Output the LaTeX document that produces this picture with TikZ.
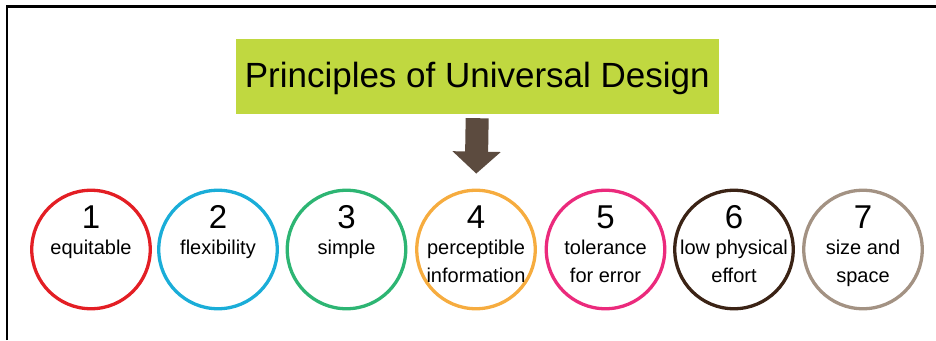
\documentclass[tikz,border=0pt]{standalone}
\usepackage{fontspec}
\setmainfont{Liberation Sans}
\usetikzlibrary{arrows.meta}
\definecolor{titlegreen}{HTML}{C0D840}
\definecolor{arrowbrown}{HTML}{5C4B3F}
\definecolor{ringred}{HTML}{E31E24}
\definecolor{ringcyan}{HTML}{1AADD8}
\definecolor{ringgreen}{HTML}{2DB573}
\definecolor{ringorange}{HTML}{F6AC3F}
\definecolor{ringpink}{HTML}{EB2A7C}
\definecolor{ringbrown}{HTML}{3B2315}
\definecolor{ringtaupe}{HTML}{A39283}
\begin{document}
\begin{tikzpicture}[x=1pt,y=-1pt,
        ring/.style={circle,line width=3.3pt,minimum size=118.5pt,inner sep=0pt},
        num/.style={font=\fontsize{33}{33}\selectfont,anchor=base,inner sep=0pt},
        lbl/.style={font=\fontsize{20}{28}\selectfont,align=center,anchor=north,inner sep=0pt}]
    \useasboundingbox (0,0) rectangle (936,340);
    \draw[line width=2.2pt] (7,340) -- (7,6.5) -- (936,6.5);
    \node[fill=titlegreen,minimum width=483.5pt,minimum height=75pt,inner sep=0pt,
        text height=25pt,text depth=4pt,
        font=\fontsize{35}{40}\selectfont] (title) at (477.25,76.5) {Principles of Universal Design};
    \foreach \i/\x/\col/\txt in {1/91/ringred/equitable, 2/218/ringcyan/flexibility,
            3/346.5/ringgreen/simple, 4/476/ringorange/{perceptible\\information},
            5/605.5/ringpink/{tolerance\\for error}, 6/734/ringbrown/{low physical\\effort},
            7/863/ringtaupe/{size and\\space}}{
        \node[ring,draw=\col] (p\i) at (\x,249.5) {};
        \node[num] (num\i) at (\x,228) {\i};
        \node[lbl] (lbl\i) at (\x,239.5) {\txt};
    }
    \draw[arrowbrown,line width=23pt,-{Triangle[width=47pt,length=22pt]},
        shorten <=4pt,shorten >=15pt] (title.south) -- (p4.north);
\end{tikzpicture}
\end{document}
